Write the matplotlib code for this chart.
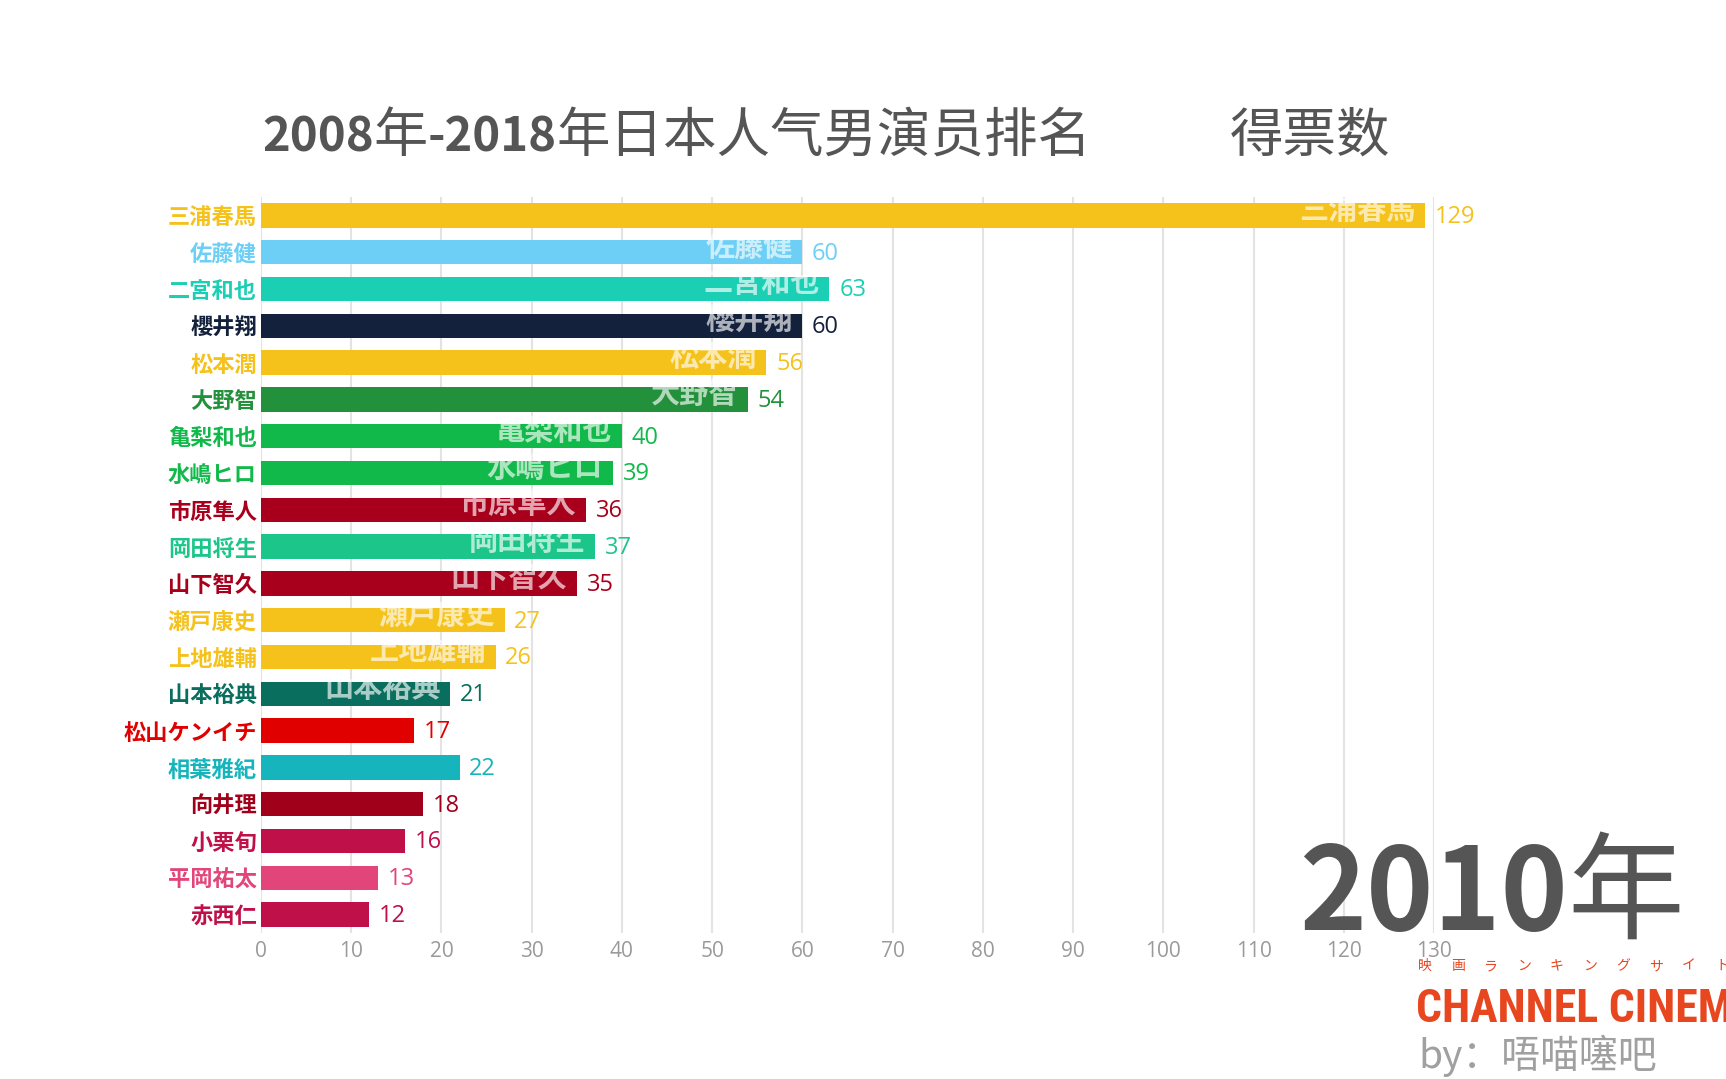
import matplotlib
matplotlib.use("Agg")
import matplotlib.pyplot as plt

names = ["三浦春馬", "佐藤健", "二宮和也", "櫻井翔", "松本潤", "大野智", "亀梨和也",
         "水嶋ヒロ", "市原隼人", "岡田将生", "山下智久", "瀬戸康史", "上地雄輔", "山本裕典",
         "松山ケンイチ", "相葉雅紀", "向井理", "小栗旬", "平岡祐太", "赤西仁"]
votes = [129, 60, 63, 60, 56, 54, 40, 39, 36, 37, 35, 27, 26, 21, 17, 22, 18, 16, 13, 12]
colors = ["#F5C21B", "#6DCFF6", "#1BCFB4", "#13213D", "#F5C21B", "#23913B", "#11B94A",
          "#11B94A", "#A8001C", "#1CC68A", "#A8001C", "#F5C21B", "#F5C21B", "#0A6E5E",
          "#E00000", "#16B5BD", "#A0001A", "#C0104A", "#E2457A", "#C0104A"]
inner_label = [True] * 14 + [False] * 6
xticks = list(range(0, 131, 10))
title_parts = [("2008", "bold", 34), ("年", "normal", 39), ("-2018", "bold", 34),
               ("年日本人气男演员排名", "normal", 38.5)]
subtitle = "得票数"
year_parts = [("2010", "bold", 82), ("年", "normal", 84)]
brand_small = "映画ランキングサイト"
brand = "CHANNEL CINEMA"
author = "by：唔喵噻吧"

CJK = ["Noto Sans CJK SC", "DejaVu Sans"]
JP = ["Noto Sans CJK JP", "DejaVu Sans"]
NUM = ["Open Sans", "DejaVu Sans"]
NARROW = ["Roboto Condensed", "Open Sans Condensed", "Liberation Sans Narrow",
          "DejaVu Sans Condensed", "DejaVu Sans"]

W, H = 1726, 1079
fig = plt.figure(figsize=(W / 100, H / 100), dpi=100)
fig.patch.set_facecolor("white")

ax = fig.add_axes([261 / W, 1 - 933 / H, (1434 - 261) / W, 736 / H])
ypos = list(range(len(names)))
ax.barh(ypos, votes, height=0.66, color=colors, zorder=2)
ax.set_xlim(0, 130)
ax.set_ylim(len(names) - 0.5, -0.5)
ax.set_xticks(xticks)
ax.grid(axis="x", color="#E3E3E3", linewidth=1.5, zorder=0)
ax.set_axisbelow(True)
for s in ax.spines.values():
    s.set_visible(False)
ax.tick_params(axis="x", length=0, pad=6, labelsize=15, labelcolor="#9A9A9A")
ax.tick_params(axis="y", length=0, pad=3)
ax.set_yticks(ypos)
ax.set_yticklabels(names, fontsize=16, fontweight="bold", family=JP)
for lbl, c in zip(ax.get_yticklabels(), colors):
    lbl.set_color(c)
for lbl in ax.get_xticklabels():
    lbl.set_family(NUM)

for y, v, c, n, show in zip(ypos, votes, colors, names, inner_label):
    ax.annotate(str(v), xy=(v, y), xytext=(7, -1), textcoords="offset points",
                ha="left", va="center", fontsize=17, color=c, family=NUM)
    if show:
        ax.annotate(n, xy=(v, y), xytext=(-7, 4), textcoords="offset points",
                    ha="right", va="center", fontsize=21, color="white", alpha=0.65,
                    fontweight="bold", family=JP, zorder=3)


def chain_text(x, y, parts):
    """Place text pieces left-to-right on a common baseline."""
    cur_x = x
    renderer = fig.canvas.get_renderer()
    for txt, wt, sz in parts:
        t = fig.text(cur_x, y, txt, fontsize=sz, fontweight=wt, color="#555555",
                     ha="left", va="baseline", family=CJK)
        bb = t.get_window_extent(renderer=renderer)
        cur_x = cur_x + bb.width / W


chain_text(262 / W, 1 - 152 / H, title_parts)
fig.text(1230 / W, 1 - 152 / H, subtitle, fontsize=38.5, color="#555555", ha="left",
         va="baseline", family=CJK)

chain_text(1299 / W, 1 - 930 / H, year_parts)

# Branding
for i, ch in enumerate(brand_small):
    fig.text((1418 + i * 33) / W, 1 - 970 / H, ch, fontsize=10, color="#E8461E",
             ha="left", va="baseline", family=JP)
fig.text(1416 / W, 1 - 1022 / H, brand, fontsize=33, fontweight="bold", color="#E8461E",
         ha="left", va="baseline", family=NARROW)
fig.text(1418 / W, 1 - 1068 / H, author, fontsize=28, color="#A0A0A0",
         ha="left", va="baseline", family=CJK)

fig.savefig("out.png", dpi=100, facecolor="white")
